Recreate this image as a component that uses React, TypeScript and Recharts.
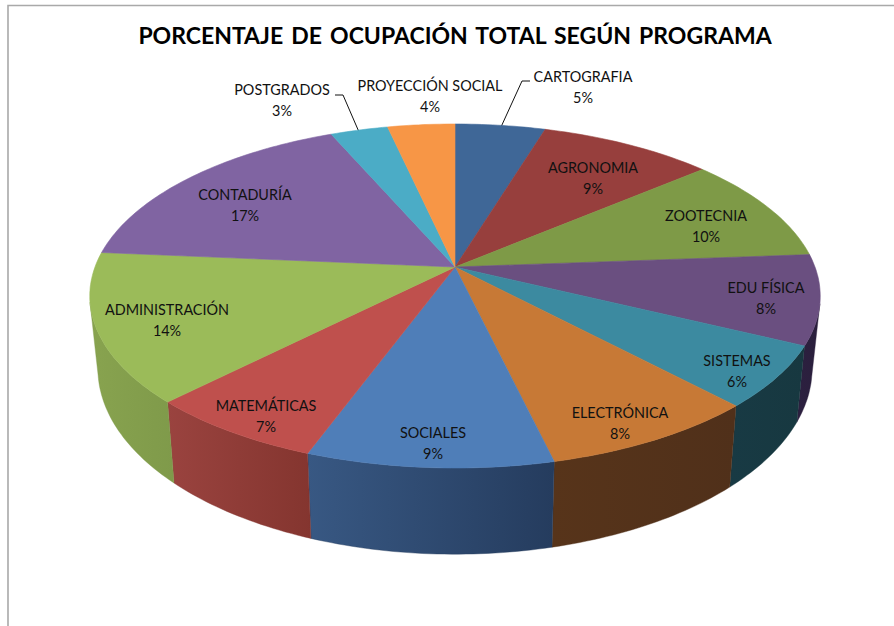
import React from "react";
import { PieChart, Pie } from "recharts";

const programas = [
  "CARTOGRAFIA",
  "AGRONOMIA",
  "ZOOTECNIA",
  "EDU FÍSICA",
  "SISTEMAS",
  "ELECTRÓNICA",
  "SOCIALES",
  "MATEMÁTICAS",
  "ADMINISTRACIÓN",
  "CONTADURÍA",
  "POSTGRADOS",
  "PROYECCIÓN SOCIAL",
];
const ocupacion = [4.7, 9.1, 10, 8.4, 5.8, 8.3, 9.3, 6.8, 14, 17.1, 3, 3.5];

const topColors = [
  "#3f6797", "#973f3d", "#7e9a47", "#6a4f80", "#3c8aa0", "#c77936",
  "#4f7eb8", "#bf504d", "#9bbb59", "#8064a2", "#4bacc6", "#f79646",
];
const wallLight = [
  "#2a4566", "#652a29", "#556830", "#2c2040", "#183a44", "#57341a",
  "#385883", "#9a433f", "#88a34f", "#56436d", "#327384", "#a5642f",
];
const wallDark = [
  "#2a4566", "#652a29", "#556830", "#2a1f3c", "#173840", "#50301a",
  "#253c5e", "#84352f", "#7f9a4a", "#56436d", "#327384", "#a5642f",
];

// label centres, placed by hand like in the original sheet
const labelSpots: [number, number][] = [
  [583, 76], [593, 167], [706, 215], [766, 287], [737, 360], [620, 412],
  [433, 432], [266, 405], [167, 309], [245, 194], [282, 89], [430, 85],
];

const CX = 455;
const CY = 267;
const RAD = Math.PI / 180;

// circle of the pie -> screen, with the slight perspective of the 3D chart
const project = (deg: number, cy: number, rx: number, ry: number): [number, number] => {
  const u = Math.cos(deg * RAD);
  const v = -Math.sin(deg * RAD);
  const k = 1 / (1 - 0.1686 * v);
  return [CX + rx * u * k, cy + ry * v * k];
};
const rim = (deg: number) => project(deg, CY, 360, 167.1);
const lowerRim = (deg: number) => project(deg, 337, 352, 180.6);

const sampleAngles = (start: number, end: number) => {
  const n = Math.max(2, Math.ceil(Math.abs(end - start)));
  const out: number[] = [];
  for (let i = 0; i <= n; i++) out.push(start + ((end - start) * i) / n);
  return out;
};
const toPath = (pts: [number, number][]) =>
  "M" + pts.map((p) => `${p[0].toFixed(1)} ${p[1].toFixed(1)}`).join("L") + "Z";

const TopSlice = (props: any) => {
  const pts = sampleAngles(props.startAngle, props.endAngle).map(rim);
  return (
    <path
      d={toPath([[CX, CY], ...pts])}
      fill={props.fill}
      stroke={props.fill}
      strokeWidth={0.6}
    />
  );
};

const WallSlice = (props: any) => {
  const i = programas.indexOf(props.name);
  const angles = sampleAngles(props.startAngle, props.endAngle).filter(
    (a) => -Math.sin(a * RAD) >= 0.2,
  );
  if (angles.length < 2) return <g />;
  const upper = angles.map(rim);
  const lower = angles.map(lowerRim).reverse();
  return (
    <g>
      <defs>
        <linearGradient id={`wall-${i}`} x1="0" y1="0" x2="1" y2="0">
          <stop offset="0%" stopColor={wallLight[i]} />
          <stop offset="100%" stopColor={wallDark[i]} />
        </linearGradient>
      </defs>
      <path
        d={toPath([...upper, ...lower])}
        fill={`url(#wall-${i})`}
        stroke={wallDark[i]}
        strokeWidth={0.4}
      />
    </g>
  );
};

const renderLabel = (props: any) => {
  const i = programas.indexOf(props.name);
  const [x, y] = labelSpots[i];
  return (
    <g key={props.name}>
      <text
        x={x}
        y={y}
        textAnchor="middle"
        dominantBaseline="central"
        fontFamily="Lato"
        fontSize={14.4}
        fill="#111"
      >
        {props.name}
      </text>
      <text
        x={x}
        y={y + 21}
        textAnchor="middle"
        dominantBaseline="central"
        fontFamily="Lato"
        fontSize={14.4}
        fill="#111"
      >
        {`${Math.round(props.value)}%`}
      </text>
    </g>
  );
};

const data = programas.map((name, i) => ({
  name,
  value: ocupacion[i],
  fill: topColors[i],
}));

export default function App() {
  return (
    <div style={{ position: "absolute", left: 0, top: 0, background: "#fff" }}>
      <PieChart
        width={894}
        height={626}
        margin={{ top: 0, right: 0, bottom: 0, left: 0 }}
      >
        <path d="M8 626V5.5H894" fill="none" stroke="#a9a9a9" strokeWidth={1.6} />
        <text
          x={455}
          y={35}
          textAnchor="middle"
          dominantBaseline="central"
          fontFamily="Lato"
          fontWeight={700}
          fontSize={23}
          wordSpacing={2.5}
          fill="#000"
        >
          PORCENTAJE DE OCUPACIÓN TOTAL SEGÚN PROGRAMA
        </text>
        <Pie
          data={data}
          dataKey="value"
          nameKey="name"
          cx={CX}
          cy={CY}
          outerRadius={167}
          startAngle={90}
          endAngle={-270}
          stroke="none"
          shape={WallSlice}
          label={false}
          labelLine={false}
          isAnimationActive={false}
        />
        <Pie
          data={data}
          dataKey="value"
          nameKey="name"
          cx={CX}
          cy={CY}
          outerRadius={167}
          startAngle={90}
          endAngle={-270}
          stroke="none"
          shape={TopSlice}
          label={renderLabel}
          labelLine={false}
          isAnimationActive={false}
        />
        <path d="M335 95H343L359 132" fill="none" stroke="#111" strokeWidth={1} />
        <path d="M530 81H522L501 127" fill="none" stroke="#111" strokeWidth={1} />
      </PieChart>
    </div>
  );
}
